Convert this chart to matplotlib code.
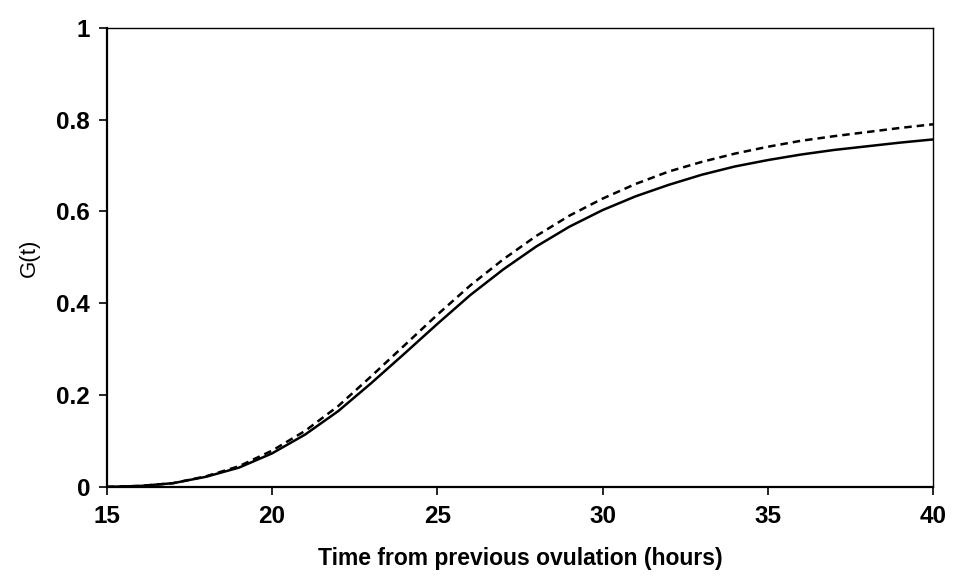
import matplotlib
matplotlib.use("Agg")
import matplotlib.pyplot as plt

# hours since previous ovulation
hours = [15, 16, 17, 18, 19, 20, 21, 22, 23, 24, 25, 26, 27,
         28, 29, 30, 31, 32, 33, 34, 35, 36, 37, 38, 39, 40]

# solid curve
g_solid = [0.0, 0.002, 0.008, 0.022, 0.042, 0.073, 0.114, 0.165, 0.226,
           0.290, 0.355, 0.418, 0.474, 0.524, 0.567, 0.603, 0.633, 0.658,
           0.680, 0.698, 0.712, 0.724, 0.734, 0.742, 0.750, 0.757]

# dashed curve
g_dashed = [0.0, 0.002, 0.008, 0.023, 0.045, 0.079, 0.122, 0.176, 0.241,
            0.308, 0.375, 0.439, 0.496, 0.547, 0.591, 0.628, 0.660, 0.687,
            0.708, 0.726, 0.741, 0.754, 0.764, 0.773, 0.782, 0.790]

x_ticks = [15, 20, 25, 30, 35, 40]
y_ticks = [0, 0.2, 0.4, 0.6, 0.8, 1]
y_tick_labels = ["0", "0.2", "0.4", "0.6", "0.8", "1"]

plt.rcParams["font.family"] = ["Liberation Sans", "DejaVu Sans"]

fig = plt.figure(figsize=(9.54, 5.81), dpi=100)
ax = fig.add_axes([0.112, 0.162, 0.866, 0.790])

ax.plot(hours, g_solid, color="black", linewidth=1.8, solid_capstyle="butt")
ax.plot(hours, g_dashed, color="black", linewidth=1.8,
        linestyle=(0, (3, 2)), dash_capstyle="butt")

ax.set_xlim(15, 40)
ax.set_ylim(0, 1)
ax.set_xticks(x_ticks)
ax.set_xticklabels([str(t) for t in x_ticks])
ax.set_yticks(y_ticks)
ax.set_yticklabels(y_tick_labels)

for side in ["left", "bottom"]:
    ax.spines[side].set_linewidth(1.6)
for side in ["top", "right"]:
    ax.spines[side].set_linewidth(1.0)

ax.tick_params(axis="both", direction="out", length=6, width=1.2,
               labelsize=17.5)
ax.tick_params(axis="x", pad=7)
ax.tick_params(axis="y", pad=6)
for lbl in ax.get_xticklabels() + ax.get_yticklabels():
    lbl.set_fontweight("bold")

ax.set_xlabel("Time from previous ovulation (hours)", fontsize=16.5,
              fontweight="bold", labelpad=14)
ax.set_ylabel("G(t)", fontsize=16, labelpad=12)

fig.savefig("out.png", dpi=100, facecolor="white")
